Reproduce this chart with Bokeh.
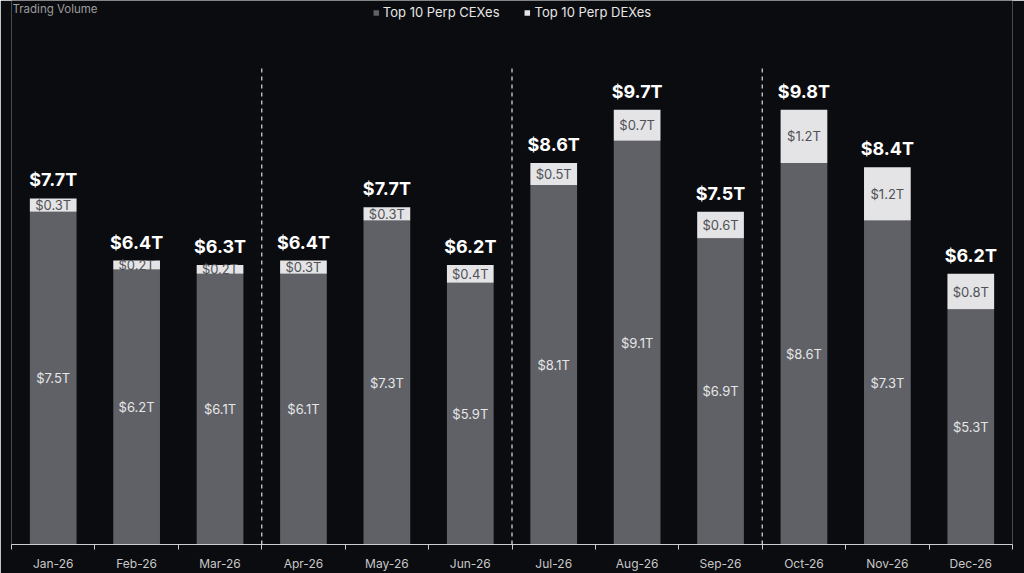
from bokeh.plotting import figure
from bokeh.models import ColumnDataSource, Range1d, FixedTicker, Legend, LegendItem, Label
from bokeh.core.properties import value
from bokeh.embed import file_html
from bokeh.resources import INLINE

months = ["Jan-26", "Feb-26", "Mar-26", "Apr-26", "May-26", "Jun-26",
          "Jul-26", "Aug-26", "Sep-26", "Oct-26", "Nov-26", "Dec-26"]
cex = [7.5, 6.2, 6.1, 6.1, 7.3, 5.9, 8.1, 9.1, 6.9, 8.6, 7.3, 5.3]
dex = [0.3, 0.2, 0.2, 0.3, 0.3, 0.4, 0.5, 0.7, 0.6, 1.2, 1.2, 0.8]
totals = [7.7, 6.4, 6.3, 6.4, 7.7, 6.2, 8.6, 9.7, 7.5, 9.8, 8.4, 6.2]

BG = "#0b0c0f"
CEX_C = "#5f6166"
DEX_C = "#e4e4e6"
FONT = "Inter"
YMAX = 12.26

n = len(months)
xs = [i + 0.5 for i in range(n)]
tops = [c + d for c, d in zip(cex, dex)]
src = ColumnDataSource(dict(
    x=xs, cex=cex, top=tops,
    cex_mid=[c / 2 for c in cex],
    dex_mid=[c + d / 2 for c, d in zip(cex, dex)],
    cex_lbl=["$%.1fT" % c for c in cex],
    dex_lbl=["$%.1fT" % d for d in dex],
    tot_lbl=["$%.1fT" % t for t in totals],
))

p = figure(width=1024, height=573, x_range=Range1d(0, n), y_range=Range1d(0, YMAX),
           output_backend="svg", toolbar_location=None,
           min_border_left=11, min_border_right=12, min_border_top=0, min_border_bottom=0,
           background_fill_color=BG, border_fill_color=BG, outline_line_color=None)
p.grid.visible = False
p.yaxis.visible = False

r1 = p.vbar(x="x", bottom=0, top="cex", width=0.56, fill_color=CEX_C, line_color=None, source=src)
r2 = p.vbar(x="x", bottom="cex", top="top", width=0.56, fill_color=DEX_C, line_color=None, source=src)

# quarter separators
qb = [q for q in range(3, n, 3)]
p.segment(x0=qb, x1=qb, y0=[0] * len(qb), y1=[10.8] * len(qb),
          line_color="#d0d0d0", line_width=1.3, line_dash="4 4")

p.text(x="x", y="cex_mid", text="cex_lbl", source=src, text_align="center",
       text_baseline="middle", text_color="#e6e6e6", text_font_size="13px",
       text_font=value(FONT))
p.text(x="x", y="dex_mid", text="dex_lbl", source=src, text_align="center",
       text_baseline="middle", text_color="#505155", text_font_size="13px",
       text_font=value(FONT))
p.text(x="x", y="top", text="tot_lbl", source=src, text_align="center",
       text_baseline="bottom", y_offset=-8, text_color="#ffffff", text_font_size="18px",
       text_font_style="bold", text_font=value(FONT))

ax = p.xaxis[0]
ax.ticker = FixedTicker(ticks=xs, minor_ticks=list(range(0, n + 1)))
ax.major_label_overrides = {x: m for x, m in zip(xs, months)}
ax.major_tick_line_color = None
ax.major_tick_out = 6
ax.minor_tick_line_color = "#cfcfcf"
ax.minor_tick_out = 5
ax.minor_tick_in = 0
ax.axis_line_color = "#cfcfcf"
ax.axis_line_width = 1.2
ax.major_label_text_color = "#c8c8c8"
ax.major_label_text_font_size = "12px"
ax.major_label_text_font = FONT
ax.major_label_standoff = 5

legend = Legend(items=[LegendItem(label="Top 10 Perp CEXes", renderers=[r1]),
                       LegendItem(label="Top 10 Perp DEXes", renderers=[r2])],
                orientation="horizontal", location="top_center",
                background_fill_alpha=0, border_line_color=None,
                label_text_color="#e6e6e6", label_text_font_size="13px",
                label_text_font=FONT, glyph_width=7, glyph_height=7,
                spacing=24, margin=4, padding=0, label_standoff=4)
p.add_layout(legend)

p.add_layout(Label(x=0, y=YMAX, x_offset=1, y_offset=-1,
                   text="Trading Volume", text_align="left", text_baseline="top",
                   text_color="#9c9c9c", text_font_size="11.5px", text_font=FONT))

open("out.html", "w").write(file_html(p, INLINE))
